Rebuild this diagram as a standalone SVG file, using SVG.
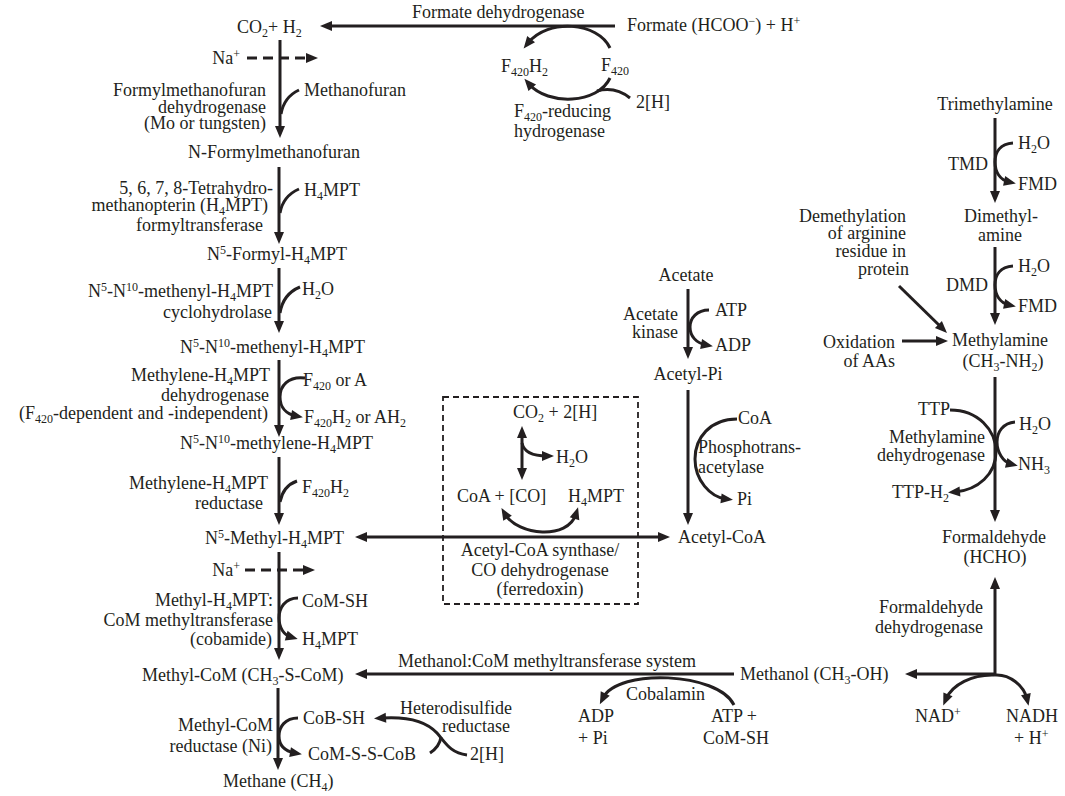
<svg xmlns="http://www.w3.org/2000/svg" width="1065" height="796" viewBox="0 0 1065 796">
  <style>
    text { font-family: "Liberation Serif", "Times New Roman", serif; font-size: 18px; fill: #231f20; }
    .e { text-anchor: end; }
    .m { text-anchor: middle; }
    .s { font-size: 12px; }
    .ln { fill: none; stroke: #231f20; stroke-width: 3; }
    .arr { marker-end: url(#ah); }
    .both { marker-start: url(#ah); marker-end: url(#ah); }
    .dash { stroke-dasharray: 10 6; }
    .box { fill: none; stroke: #231f20; stroke-width: 1.8; stroke-dasharray: 6 4; }
  </style>
  <defs>
    <marker id="ah" markerUnits="userSpaceOnUse" markerWidth="13" markerHeight="11" refX="5" refY="5" orient="auto-start-reverse" overflow="visible">
      <path d="M0,0 L12,5 L0,10 Z" fill="#231f20"/>
    </marker>
  </defs>

  <!-- connectors -->
  <g id="connectors">
    <!-- left column main arrows -->
    <line class="ln arr" x1="280" y1="40" x2="280" y2="131"/>
    <line class="ln arr" x1="279" y1="167" x2="279" y2="237"/>
    <line class="ln arr" x1="279" y1="268" x2="279" y2="326"/>
    <line class="ln arr" x1="279" y1="360" x2="279" y2="430"/>
    <line class="ln arr" x1="279" y1="457" x2="279" y2="518"/>
    <line class="ln arr" x1="279" y1="552" x2="279" y2="653"/>
    <line class="ln arr" x1="278" y1="688" x2="278" y2="763"/>
    <!-- Na+ translocation -->
    <line class="ln arr dash" x1="247" y1="58" x2="311" y2="58"/>
    <line class="ln arr dash" x1="245" y1="570" x2="308" y2="570"/>
    <!-- cofactor hooks -->
    <path class="ln" d="M281,114 Q284,97 299,90"/>
    <path class="ln" d="M280,213 Q283,196 299,189"/>
    <path class="ln" d="M280,313 Q283,294 300,287"/>
    <path class="ln arr" d="M305,378 C288,376 280,386 280,397 C280,407 286,414 296,416"/>
    <path class="ln" d="M280,502 Q283,486 297,481"/>
    <path class="ln arr" d="M298,598 C285,598 279,608 279,618 C279,628 284,635 291,637"/>
    <path class="ln arr" d="M298,718 C285,718 279,727 279,736 C279,745 284,751 295,753"/>
    <!-- heterodisulfide reductase -->
    <path class="ln arr" d="M467,755 C450,753 445,742 437,733 C427,722 410,716 381,718"/>
    <path class="ln" d="M430,753 C436,749 440,744 441,737"/>
    <!-- formate dehydrogenase -->
    <line class="ln arr" x1="615" y1="26" x2="327" y2="26"/>
    <path class="ln arr" d="M610,48 C598,22 548,18 528,43"/>
    <path class="ln arr" d="M610,78 C598,104 548,106 529,84"/>
    <path class="ln" d="M630,98 C620,90 608,88 597,91"/>
    <!-- acetyl-CoA synthase -->
    <line class="ln both" x1="362" y1="537" x2="663" y2="537"/>
    <line class="ln both" x1="522" y1="433" x2="522" y2="473"/>
    <path class="ln arr" d="M522,443 C524,453 535,456 547,456"/>
    <path class="ln both" d="M505,514 C518,536 568,540 576,514"/>
    <!-- acetate -->
    <line class="ln arr" x1="688" y1="289" x2="688" y2="352"/>
    <path class="ln arr" d="M709,310 C697,310 690,318 690,327 C690,336 696,343 706,345"/>
    <line class="ln arr" x1="688" y1="390" x2="688" y2="518"/>
    <path class="ln arr" d="M737,419 C710,419 695,438 695,459 C695,480 710,497 726,499"/>
    <!-- methylamines -->
    <line class="ln arr" x1="995" y1="118" x2="995" y2="196"/>
    <path class="ln arr" d="M1013,143 C1000,144 995,152 995,162 C995,172 1000,180 1009,182"/>
    <line class="ln arr" x1="995" y1="247" x2="995" y2="318"/>
    <path class="ln arr" d="M1013,266 C1000,267 995,275 995,285 C995,295 1000,303 1009,305"/>
    <line class="ln arr" x1="899" y1="286" x2="942" y2="328"/>
    <line class="ln arr" x1="902" y1="341" x2="941" y2="341"/>
    <line class="ln arr" x1="995" y1="377" x2="995" y2="515"/>
    <path class="ln arr" d="M950,410 C978,410 996,430 996,452 C996,474 978,490 955,492"/>
    <path class="ln arr" d="M1015,422 C1003,423 997,432 997,442 C997,452 1003,462 1011,464"/>
    <!-- methanol -->
    <line class="ln arr" x1="995" y1="674" x2="995" y2="584"/>
    <line class="ln arr" x1="995" y1="674" x2="912" y2="674"/>
    <path class="ln arr" d="M995,675 C972,674 952,685 946,699"/>
    <path class="ln arr" d="M995,675 C1010,674 1024,686 1027,699"/>
    <line class="ln arr" x1="734" y1="674" x2="362" y2="674"/>
    <path class="ln arr" d="M734,705 C718,672 618,668 603,698"/>
  </g>

  <!-- CO2 reduction pathway -->
  <g id="co2-h2"><text x="237" y="33">CO<tspan class="s" dy="4">2</tspan><tspan dy="-4">+ H</tspan><tspan class="s" dy="4">2</tspan></text></g>
  <g id="na-1"><text class="e" x="240" y="64">Na<tspan class="s" dy="-6">+</tspan></text></g>
  <g id="fmd-enzyme">
    <text class="e" x="266" y="96">Formylmethanofuran</text>
    <text class="e" x="266" y="113">dehydrogenase</text>
    <text class="e" x="266" y="129">(Mo or tungsten)</text>
    <text x="304" y="96">Methanofuran</text>
  </g>
  <g id="n-formylmethanofuran"><text class="e" x="360" y="158">N-Formylmethanofuran</text></g>
  <g id="ftr-enzyme">
    <text class="e" x="273" y="194">5, 6, 7, 8-Tetrahydro-</text>
    <text class="e" x="268" y="211">methanopterin (H<tspan class="s" dy="4">4</tspan><tspan dy="-4">MPT)</tspan></text>
    <text class="e" x="263" y="231">formyltransferase</text>
    <text x="304" y="196">H<tspan class="s" dy="4">4</tspan><tspan dy="-4">MPT</tspan></text>
  </g>
  <g id="n5-formyl"><text x="207" y="260">N<tspan class="s" dy="-6">5</tspan><tspan dy="6">-Formyl-H</tspan><tspan class="s" dy="4">4</tspan><tspan dy="-4">MPT</tspan></text></g>
  <g id="mch-enzyme">
    <text class="e" x="273" y="297">N<tspan class="s" dy="-6">5</tspan><tspan dy="6">-N</tspan><tspan class="s" dy="-6">10</tspan><tspan dy="6">-methenyl-H</tspan><tspan class="s" dy="4">4</tspan><tspan dy="-4">MPT</tspan></text>
    <text class="e" x="272" y="318">cyclohydrolase</text>
    <text x="302" y="295">H<tspan class="s" dy="4">2</tspan><tspan dy="-4">O</tspan></text>
  </g>
  <g id="methenyl"><text x="180" y="353">N<tspan class="s" dy="-6">5</tspan><tspan dy="6">-N</tspan><tspan class="s" dy="-6">10</tspan><tspan dy="6">-methenyl-H</tspan><tspan class="s" dy="4">4</tspan><tspan dy="-4">MPT</tspan></text></g>
  <g id="mtd-enzyme">
    <text class="e" x="270" y="381">Methylene-H<tspan class="s" dy="4">4</tspan><tspan dy="-4">MPT</tspan></text>
    <text class="e" x="269" y="401">dehydrogenase</text>
    <text class="e" x="268" y="419">(F<tspan class="s" dy="4">420</tspan><tspan dy="-4">-dependent and -independent)</tspan></text>
    <text x="303" y="386">F<tspan class="s" dy="4">420</tspan><tspan dy="-4"> or A</tspan></text>
    <text x="304" y="423">F<tspan class="s" dy="4">420</tspan><tspan dy="-4">H</tspan><tspan class="s" dy="4">2</tspan><tspan dy="-4"> or AH</tspan><tspan class="s" dy="4">2</tspan></text>
  </g>
  <g id="methylene"><text x="180" y="449">N<tspan class="s" dy="-6">5</tspan><tspan dy="6">-N</tspan><tspan class="s" dy="-6">10</tspan><tspan dy="6">-methylene-H</tspan><tspan class="s" dy="4">4</tspan><tspan dy="-4">MPT</tspan></text></g>
  <g id="mer-enzyme">
    <text class="e" x="268" y="489">Methylene-H<tspan class="s" dy="4">4</tspan><tspan dy="-4">MPT</tspan></text>
    <text class="e" x="263" y="509">reductase</text>
    <text x="302" y="493">F<tspan class="s" dy="4">420</tspan><tspan dy="-4">H</tspan><tspan class="s" dy="4">2</tspan></text>
  </g>
  <g id="n5-methyl"><text x="205" y="544">N<tspan class="s" dy="-6">5</tspan><tspan dy="6">-Methyl-H</tspan><tspan class="s" dy="4">4</tspan><tspan dy="-4">MPT</tspan></text></g>
  <g id="na-2"><text class="e" x="240" y="576">Na<tspan class="s" dy="-6">+</tspan></text></g>
  <g id="mtr-enzyme">
    <text class="e" x="273" y="606">Methyl-H<tspan class="s" dy="4">4</tspan><tspan dy="-4">MPT:</tspan></text>
    <text class="e" x="273" y="626">CoM methyltransferase</text>
    <text class="e" x="272" y="645">(cobamide)</text>
    <text x="302" y="607">CoM-SH</text>
    <text x="302" y="645">H<tspan class="s" dy="4">4</tspan><tspan dy="-4">MPT</tspan></text>
  </g>
  <g id="methyl-com"><text x="142" y="681">Methyl-CoM (CH<tspan class="s" dy="4">3</tspan><tspan dy="-4">-S-CoM)</tspan></text></g>
  <g id="mcr-enzyme">
    <text class="e" x="273" y="731">Methyl-CoM</text>
    <text class="e" x="272" y="752">reductase (Ni)</text>
    <text x="303" y="724">CoB-SH</text>
    <text x="308" y="760">CoM-S-S-CoB</text>
  </g>
  <g id="hdr-enzyme">
    <text x="400" y="714">Heterodisulfide</text>
    <text x="442" y="732">reductase</text>
    <text x="470" y="760">2[H]</text>
  </g>
  <g id="methane"><text x="223" y="787">Methane (CH<tspan class="s" dy="4">4</tspan><tspan dy="-4">)</tspan></text></g>

  <!-- formate -->
  <g id="formate">
    <text x="412" y="18">Formate dehydrogenase</text>
    <text x="627" y="31">Formate (HCOO<tspan class="s" dy="-6">−</tspan><tspan dy="6">) + H</tspan><tspan class="s" dy="-6">+</tspan></text>
  </g>
  <g id="f420-cycle">
    <text x="501" y="72">F<tspan class="s" dy="4">420</tspan><tspan dy="-4">H</tspan><tspan class="s" dy="4">2</tspan></text>
    <text x="601" y="71">F<tspan class="s" dy="4">420</tspan></text>
    <text x="636" y="108">2[H]</text>
    <text x="514" y="117">F<tspan class="s" dy="4">420</tspan><tspan dy="-4">-reducing</tspan></text>
    <text x="514" y="137">hydrogenase</text>
  </g>

  <!-- acetyl-CoA synthase / CO dehydrogenase complex -->
  <g id="acs-cdh">
    <rect class="box" x="443" y="397" width="195" height="207"/>
    <text x="513" y="418">CO<tspan class="s" dy="4">2</tspan><tspan dy="-4"> + 2[H]</tspan></text>
    <text x="556" y="463">H<tspan class="s" dy="4">2</tspan><tspan dy="-4">O</tspan></text>
    <text x="457" y="502">CoA + [CO]</text>
    <text x="568" y="502">H<tspan class="s" dy="4">4</tspan><tspan dy="-4">MPT</tspan></text>
    <text class="m" x="540" y="556">Acetyl-CoA synthase/</text>
    <text class="m" x="540" y="576">CO dehydrogenase</text>
    <text class="m" x="540" y="595">(ferredoxin)</text>
  </g>

  <!-- acetate activation -->
  <g id="acetate"><text class="m" x="686" y="281">Acetate</text></g>
  <g id="ack-enzyme">
    <text class="e" x="678" y="320">Acetate</text>
    <text class="e" x="678" y="338">kinase</text>
    <text x="715" y="316">ATP</text>
    <text x="715" y="351">ADP</text>
  </g>
  <g id="acetyl-pi"><text class="m" x="688" y="380">Acetyl-Pi</text></g>
  <g id="pta-enzyme">
    <text x="738" y="424">CoA</text>
    <text x="698" y="453">Phosphotrans-</text>
    <text x="698" y="473">acetylase</text>
    <text x="737" y="505">Pi</text>
  </g>
  <g id="acetyl-coa"><text x="678" y="543">Acetyl-CoA</text></g>

  <!-- methylamines -->
  <g id="trimethylamine"><text class="m" x="995" y="110">Trimethylamine</text></g>
  <g id="tmd-enzyme">
    <text class="e" x="988" y="170">TMD</text>
    <text x="1018" y="149">H<tspan class="s" dy="4">2</tspan><tspan dy="-4">O</tspan></text>
    <text x="1018" y="190">FMD</text>
  </g>
  <g id="dimethylamine">
    <text class="m" x="1001" y="222">Dimethyl-</text>
    <text class="m" x="1000" y="241">amine</text>
  </g>
  <g id="dmd-enzyme">
    <text class="e" x="988" y="291">DMD</text>
    <text x="1018" y="272">H<tspan class="s" dy="4">2</tspan><tspan dy="-4">O</tspan></text>
    <text x="1018" y="312">FMD</text>
  </g>
  <g id="demethylation">
    <text class="e" x="906" y="222">Demethylation</text>
    <text class="e" x="906" y="239">of arginine</text>
    <text class="e" x="906" y="257">residue in</text>
    <text class="e" x="909" y="275">protein</text>
  </g>
  <g id="oxidation-aas">
    <text class="e" x="895" y="348">Oxidation</text>
    <text class="e" x="895" y="367">of AAs</text>
  </g>
  <g id="methylamine">
    <text x="952" y="346">Methylamine</text>
    <text class="m" x="1003" y="367">(CH<tspan class="s" dy="4">3</tspan><tspan dy="-4">-NH</tspan><tspan class="s" dy="4">2</tspan><tspan dy="-4">)</tspan></text>
  </g>
  <g id="madh-enzyme">
    <text x="918" y="415">TTP</text>
    <text class="e" x="985" y="443">Methylamine</text>
    <text class="e" x="985" y="461">dehydrogenase</text>
    <text x="892" y="498">TTP-H<tspan class="s" dy="4">2</tspan></text>
    <text x="1019" y="430">H<tspan class="s" dy="4">2</tspan><tspan dy="-4">O</tspan></text>
    <text x="1018" y="470">NH<tspan class="s" dy="4">3</tspan></text>
  </g>
  <g id="formaldehyde">
    <text class="m" x="994" y="543">Formaldehyde</text>
    <text class="m" x="995" y="563">(HCHO)</text>
  </g>
  <g id="fdh-enzyme">
    <text class="e" x="983" y="613">Formaldehyde</text>
    <text class="e" x="983" y="633">dehydrogenase</text>
    <text x="915" y="722">NAD<tspan class="s" dy="-6">+</tspan></text>
    <text x="1006" y="722">NADH</text>
    <text x="1014" y="744">+ H<tspan class="s" dy="-6">+</tspan></text>
  </g>

  <!-- methanol -->
  <g id="methanol"><text x="740" y="680">Methanol (CH<tspan class="s" dy="4">3</tspan><tspan dy="-4">-OH)</tspan></text></g>
  <g id="mta-enzyme">
    <text class="e" x="696" y="667">Methanol:CoM methyltransferase system</text>
    <text x="626" y="700">Cobalamin</text>
    <text x="578" y="722">ADP</text>
    <text x="578" y="744">+ Pi</text>
    <text x="711" y="722">ATP +</text>
    <text x="703" y="744">CoM-SH</text>
  </g>
</svg>
